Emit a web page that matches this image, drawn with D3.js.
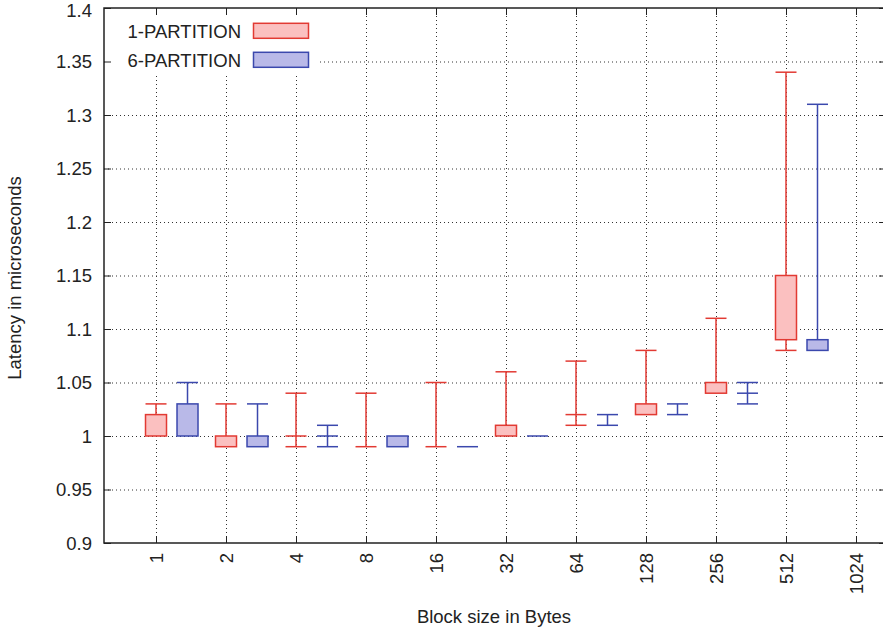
<!DOCTYPE html>
<html><head><meta charset="utf-8">
<script src="https://cdn.jsdelivr.net/npm/d3@7"></script>
<style>body{margin:0;background:#fff}svg{display:block}text{font-family:"Liberation Sans",Arial,sans-serif;fill:#222}</style>
</head><body>
<svg id="c" width="883" height="629"></svg>
<script>
const categories = ["1","2","4","8","16","32","64","128","256","512","1024"];
const seriesNames = ["1-PARTITION","6-PARTITION"];
// [whiskerLow, boxLow, boxHigh, whiskerHigh] per category (null = no data)
const part1 = [
  [1.00,1.00,1.02,1.03],[0.99,0.99,1.00,1.03],[0.99,1.00,1.00,1.04],[0.99,0.99,0.99,1.04],
  [0.99,0.99,0.99,1.05],[1.00,1.00,1.01,1.06],[1.01,1.02,1.02,1.07],[1.02,1.02,1.03,1.08],
  [1.04,1.04,1.05,1.11],[1.08,1.09,1.15,1.34],null];
const part6 = [
  [1.00,1.00,1.03,1.05],[0.99,0.99,1.00,1.03],[0.99,1.00,1.00,1.01],[0.99,0.99,1.00,1.00],
  [0.99,0.99,0.99,0.99],[1.00,1.00,1.00,1.00],[1.01,1.01,1.01,1.02],[1.02,1.02,1.02,1.03],
  [1.03,1.04,1.04,1.05],[1.08,1.08,1.09,1.31],null];
const yTicks = [0.9,0.95,1,1.05,1.1,1.15,1.2,1.25,1.3,1.35,1.4];
const colors = [{stroke:"#e23a33",fill:"#fbc0c0"},{stroke:"#3b48ad",fill:"#b9b9e8"}];

const svg = d3.select("#c");
const FS = 18.5;
const L=104,R=884,T=8,B=543,RF=886;
const x = d3.scaleLinear().domain([-0.743,10.4]).range([L,R]);
const y = d3.scaleLinear().domain([0.9,1.4]).range([B,T]);
const offset = 0.45, bw = 0.3;

// grid
const g = svg.append("g");
g.selectAll(".hg").data(yTicks.slice(1,-1)).join("line")
  .attr("x1",L).attr("x2",RF).attr("y1",d=>y(d)+0.5).attr("y2",d=>y(d)+0.5)
  .attr("stroke","#333").attr("stroke-width",1).attr("stroke-dasharray","1,3");
g.selectAll(".vg").data(categories).join("line")
  .attr("x1",(d,i)=>Math.round(x(i))+0.5).attr("x2",(d,i)=>Math.round(x(i))+0.5).attr("y1",T).attr("y2",B)
  .attr("stroke","#333").attr("stroke-width",1).attr("stroke-dasharray","1,3");

// candlesticks
[part1,part6].forEach((ser,si)=>{
  const c=colors[si];
  const gg=svg.append("g");
  ser.forEach((d,i)=>{
    if(!d) return;
    const cx=x(i+si*offset), hw=(x(bw)-x(0))/2;
    const [wl,bl,bh,wh]=d;
    gg.append("line").attr("x1",cx).attr("x2",cx).attr("y1",y(wh)).attr("y2",y(bh)).attr("stroke",c.stroke).attr("stroke-width",1.5);
    gg.append("line").attr("x1",cx).attr("x2",cx).attr("y1",y(bl)).attr("y2",y(wl)).attr("stroke",c.stroke).attr("stroke-width",1.5);
    if(wh>bh) gg.append("line").attr("x1",cx-hw).attr("x2",cx+hw).attr("y1",y(wh)).attr("y2",y(wh)).attr("stroke",c.stroke).attr("stroke-width",1.5);
    if(wl<bl) gg.append("line").attr("x1",cx-hw).attr("x2",cx+hw).attr("y1",y(wl)).attr("y2",y(wl)).attr("stroke",c.stroke).attr("stroke-width",1.5);
    if(bh>bl) gg.append("rect").attr("x",cx-hw).attr("width",2*hw).attr("y",y(bh)).attr("height",y(bl)-y(bh))
      .attr("fill",c.fill).attr("stroke",c.stroke).attr("stroke-width",1.5);
    else gg.append("line").attr("x1",cx-hw).attr("x2",cx+hw).attr("y1",y(bl)).attr("y2",y(bl)).attr("stroke",c.stroke).attr("stroke-width",1.5);
  });
});

// legend
svg.append("rect").attr("x",L+1).attr("y",T+1).attr("width",212).attr("height",66).attr("fill","#fff");
seriesNames.forEach((n,i)=>{
  const top=23.3+i*29;
  svg.append("text").attr("x",241).attr("y",top+14.2).attr("text-anchor","end").attr("font-size",FS).text(n);
  svg.append("rect").attr("x",253.5).attr("y",top).attr("width",55).attr("height",15)
    .attr("fill",colors[i].fill).attr("stroke",colors[i].stroke).attr("stroke-width",1.5);
});

// axes frame and ticks
const ax=svg.append("g");
yTicks.forEach(t=>{
  ax.append("line").attr("x1",L).attr("x2",L+7).attr("y1",y(t)+0.5).attr("y2",y(t)+0.5).attr("stroke","#222");
  ax.append("line").attr("x1",RF-7).attr("x2",RF).attr("y1",y(t)+0.5).attr("y2",y(t)+0.5).attr("stroke","#222");
  ax.append("text").attr("x",92).attr("y",Math.max(y(t)+6.6,17)).attr("text-anchor","end").attr("font-size",FS).text(d3.format("")(t));
});
categories.forEach((c,i)=>{
  const xx=Math.round(x(i))+0.5;
  ax.append("line").attr("x1",xx).attr("x2",xx).attr("y1",B).attr("y2",B-7).attr("stroke","#222");
  ax.append("line").attr("x1",xx).attr("x2",xx).attr("y1",T).attr("y2",T+7).attr("stroke","#222");
  ax.append("text").attr("transform",`translate(${xx+6.6},553) rotate(-90)`).attr("text-anchor","end").attr("font-size",FS).text(c);
});
ax.append("path").attr("d",`M${RF},${T}H${L}V${B}H${RF}`).attr("fill","none").attr("stroke","#222").attr("stroke-width",1.5);

svg.append("text").attr("x",494).attr("y",623).attr("text-anchor","middle").attr("font-size",FS).text("Block size in Bytes");
svg.append("text").attr("transform","translate(20.5,278) rotate(-90)").attr("text-anchor","middle").attr("font-size",FS).text("Latency in microseconds");
</script>
</body></html>
